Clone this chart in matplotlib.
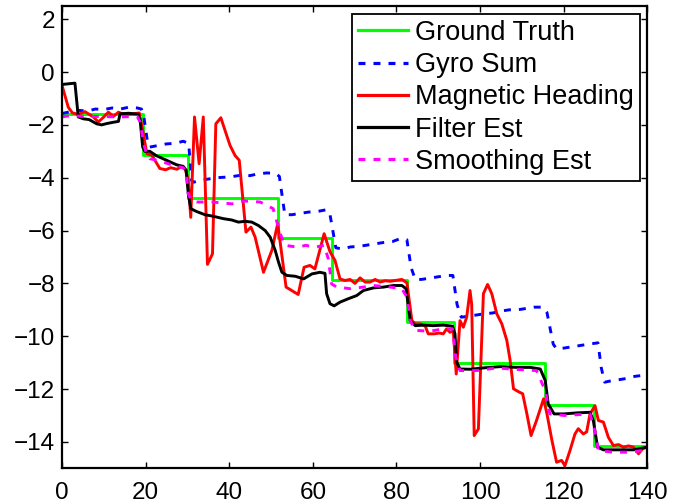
import matplotlib
matplotlib.use("Agg")
import matplotlib.pyplot as plt

plt.rcParams["font.family"] = ["Liberation Sans", "DejaVu Sans"]
plt.rcParams["lines.scale_dashes"] = False

# Ground truth heading: piecewise-constant levels starting at each change time
gt_t = [0, 19.3, 30.2, 51.7, 64.5, 82.6, 93.8, 115.6, 127.3, 140]
gt_v = [-1.57, -3.15, -4.75, -6.30, -7.88, -9.47, -11.02, -12.60, -14.17, -14.17]

# Integrated gyro rate
gyro_t = [0, 2, 4, 6, 8, 10, 12, 14, 16, 18, 19, 19.5, 20.5, 21, 23, 25, 27, 29, 30.3,
          31, 31.5, 33, 35, 37, 39, 41, 43, 45, 47, 49, 51, 52, 53.3, 55, 57, 59, 61,
          63, 64, 65.5, 67, 69, 71, 73, 75, 77, 79, 81, 82.5, 83.5, 84.5, 86, 88, 90,
          92, 93.5, 94.5, 95.5, 97, 99, 101, 103, 105, 107, 109, 111, 113, 115, 116,
          117.5, 118.3, 120, 122, 124, 126, 128.2, 129, 129.8, 131, 133, 135, 137,
          139, 140]
gyro_v = [-1.57, -1.50, -1.45, -1.48, -1.40, -1.42, -1.36, -1.40, -1.33, -1.36, -1.40,
          -1.60, -2.70, -2.84, -2.78, -2.72, -2.70, -2.62, -2.70,
          -4.10, -4.17, -4.10, -4.05, -4.00, -3.98, -3.95, -3.90, -3.92, -3.85, -3.82,
          -3.83, -3.95, -5.40, -5.40, -5.35, -5.30, -5.28,
          -5.22, -5.30, -6.65, -6.70, -6.62, -6.60, -6.55, -6.50, -6.45, -6.42, -6.30,
          -6.35, -7.40, -7.85, -7.85, -7.80, -7.75,
          -7.70, -7.70, -8.80, -9.28, -9.25, -9.20, -9.15, -9.12, -9.05, -9.00, -9.00,
          -8.95, -8.90, -8.90, -9.10,
          -10.30, -10.48, -10.45, -10.40, -10.35, -10.30, -10.25, -11.20, -11.74,
          -11.70, -11.65, -11.60, -11.52, -11.48, -11.42]

# Heading from the magnetometer
mag_t = [0, 1.5, 2.5, 4, 5.5, 7.5, 8.7, 10, 11.1, 12.3, 13.5, 15, 17, 18.5, 19.3,
         20.3, 21.5, 23.4, 24.8, 26, 27.5, 28.5, 29.5, 30.2, 30.8, 31.7, 32.8, 33.8,
         34.8, 36.0, 36.8, 38.0, 39.0, 40.2, 41.4, 42.4, 44.0, 45.2, 46.2, 48.2,
         50.2, 51.6, 53.6, 56.5, 57.9, 59.3, 60.5, 62.7, 64.1, 65.3, 66.5, 67.7,
         68.9, 70.1, 71.3, 72.5, 73.7, 74.9, 76.1, 77.3, 78.5, 79.7, 81.3, 82.5,
         83.7, 84.5, 85.7, 86.9, 87.6, 89, 90.2, 91.2, 92.0, 92.8, 93.6, 94.3,
         95.2, 96.0, 96.8, 97.6, 98.0, 98.6, 99.6, 100.8, 101.8, 102.8, 104.0,
         105.2, 106.4, 107.2, 108.0, 109.2, 110.2, 111.2, 112.2, 113.5, 115.2,
         116.0, 117.2, 118.3, 119.5, 120.3, 121.5, 122.7, 123.5, 124.7, 125.5,
         126.3, 127.5, 128.3, 129.5, 130.7, 131.9, 133.1, 134.3, 135.5, 136.7,
         137.9, 138.9, 140]
mag_v = [-0.50, -1.33, -1.55, -1.60, -1.50, -1.70, -1.89, -1.70, -1.52, -1.68, -1.52,
         -1.62, -1.58, -1.55, -2.20,
         -3.09, -3.15, -3.65, -3.70, -3.62, -3.68, -3.58, -3.68, -4.10, -5.50, -1.70,
         -3.47, -1.70,
         -7.28, -6.88, -1.96, -1.73, -2.21, -2.78, -3.16, -3.34, -6.06, -5.87, -6.25,
         -7.58,
         -6.75, -5.74, -8.14, -8.42, -7.39, -7.32, -7.45, -6.12, -6.80, -7.13, -7.83,
         -7.89,
         -7.85, -8.00, -7.79, -7.95, -7.95, -7.85, -7.95, -7.90, -7.92, -7.89, -7.85,
         -7.98,
         -9.41, -9.53, -9.53, -9.62, -9.91, -9.91, -9.88, -9.91, -9.72, -9.85, -9.80,
         -11.43,
         -9.41, -9.66, -9.28, -8.27, -8.80, -13.76, -13.51, -8.39, -8.04, -8.39, -9.15,
         -9.53, -10.16, -10.92, -11.99, -12.10, -12.18, -12.94, -13.76, -13.19, -12.37,
         -12.94, -13.95, -14.77, -14.70, -14.90, -14.33, -13.70, -13.50, -13.70, -13.62,
         -12.94, -12.63, -13.19, -13.25, -13.83, -14.14, -14.10, -14.20, -14.15, -14.20,
         -14.45, -14.25, -14.20]

# Forward filter estimate
filt_t = [0, 3.1, 3.9, 5.1, 6.5, 8.3, 9.5, 10.7, 12.3, 13.5, 13.9, 16, 18.3, 18.7,
          19.3, 19.8, 21, 22.5, 25, 27.4, 29, 29.7, 30.2, 30.8, 32.2, 34.2, 36.2,
          38.6, 40.6, 42.2, 43.8, 45.4, 47.0, 48.6, 49.8, 51.0, 51.8, 52.6, 53.8,
          55.8, 57.8, 59.8, 61.7, 62.9, 63.3, 64.1, 65.1, 66.5, 68.5, 70.5, 72.1,
          74.5, 76.9, 79.3, 81.3, 82.3, 83.3, 84.5, 86.5, 88.8, 91.2, 93.4, 94.0,
          94.4, 95.2, 97.6, 100.8, 104.8, 108.8, 112, 114.4, 115.6, 116.3, 117.7,
          120.1, 123.3, 126.3, 127.1, 128.1, 129.5, 133.5, 136.7, 140]
filt_v = [-0.47, -0.42, -1.70, -1.77, -1.80, -1.96, -2.00, -1.95, -1.90, -1.87, -1.58,
          -1.56, -1.60, -1.83,
          -2.84, -3.00, -3.00, -3.16, -3.34, -3.51, -3.57, -3.72, -4.60, -5.17, -5.28,
          -5.40, -5.46,
          -5.55, -5.60, -5.68, -5.65, -5.68, -5.81, -6.00, -6.25, -6.75, -7.20, -7.58,
          -7.70,
          -7.73, -7.83, -7.64, -7.58, -7.62, -8.39, -8.77, -8.85, -8.71, -8.58, -8.46,
          -8.27,
          -8.17, -8.14, -8.08, -8.08, -8.20, -9.41, -9.60, -9.58, -9.60, -9.58, -9.62,
          -9.91,
          -10.98, -11.24, -11.25, -11.20, -11.15, -11.18, -11.18, -11.24, -11.68, -12.56,
          -12.94,
          -12.94, -12.90, -12.88, -13.20, -14.20, -14.30, -14.30, -14.30, -14.20]

# Backward smoother estimate
smooth_t = [0, 2, 5, 8, 13.5, 18, 18.7, 19.5, 20.2, 21, 23, 25, 27, 29, 29.7, 30.2,
            31, 32.2, 36, 40.7, 43.4, 47.4, 50.5, 52.2, 53.3, 56.5, 58.3, 60.5, 62.7,
            63.7, 64.5, 65.7, 68.9, 72.1, 74.5, 78.5, 81.3, 82.5, 83.3, 84.5, 88.1,
            91.2, 93.4, 94.2, 95.2, 99.2, 104, 108, 113.5, 115.6, 116.7, 120.1,
            126.3, 127.5, 128.3, 131.9, 135.9, 140]
smooth_v = [-1.70, -1.65, -1.68, -1.68, -1.70, -1.68, -1.90, -2.70, -3.10, -3.28, -3.35,
            -3.45, -3.55, -3.62, -3.75, -4.60,
            -4.88, -4.92, -4.92, -4.99, -4.88, -4.92, -5.17, -6.12, -6.56, -6.63, -6.56,
            -6.63, -6.56,
            -7.07, -8.02, -8.14, -8.20, -8.14, -8.08, -8.14, -8.20, -8.52, -9.41, -9.78,
            -9.81,
            -9.72, -9.72, -10.80, -11.30, -11.30, -11.20, -11.25, -11.30, -12.06, -12.94,
            -13.00,
            -12.94, -13.60, -14.33, -14.39, -14.39, -14.30]

labels = ["Ground Truth", "Gyro Sum", "Magnetic Heading", "Filter Est", "Smoothing Est"]
x_ticks = [0, 20, 40, 60, 80, 100, 120, 140]
y_ticks = [2, 0, -2, -4, -6, -8, -10, -12, -14]

fig = plt.figure(figsize=(6.73, 5.04), dpi=100)
ax = fig.add_axes([0.0921, 0.0708, 0.8697, 0.9173])

lw = 2.1
dash = (5.0, 5.8)
ax.plot(gt_t, gt_v, color=(0, 1, 0), lw=lw, drawstyle="steps-post", label=labels[0])
ax.plot(gyro_t, gyro_v, color=(0, 0, 1), lw=lw, dashes=dash, label=labels[1])
ax.plot(mag_t, mag_v, color=(1, 0, 0), lw=lw, label=labels[2])
ax.plot(filt_t, filt_v, color="black", lw=lw, label=labels[3])
ax.plot(smooth_t, smooth_v, color=(1, 0, 1), lw=lw, dashes=dash, label=labels[4])

ax.set_xlim(0, 140)
ax.set_ylim(-15, 2.5)
ax.set_xticks(x_ticks)
ax.set_yticks(y_ticks)
ax.tick_params(direction="in", length=4, width=1.0, labelsize=17.5, top=True, right=True,
               pad=5, colors="black")
ax.tick_params(axis="x", pad=10)
for s in ax.spines.values():
    s.set_linewidth(1.6)
    s.set_color("black")

leg = ax.legend(loc="upper right", bbox_to_anchor=(0.9875, 0.9827), fontsize=19.5,
                frameon=True, fancybox=False, framealpha=1, edgecolor="black",
                borderpad=0.22, labelspacing=0.23, handlelength=1.85,
                handletextpad=0.25, borderaxespad=0.0)
leg.get_frame().set_linewidth(1.3)
for h in leg.get_lines():
    h.set_linewidth(2.3)

fig.savefig("out.png", dpi=100)
